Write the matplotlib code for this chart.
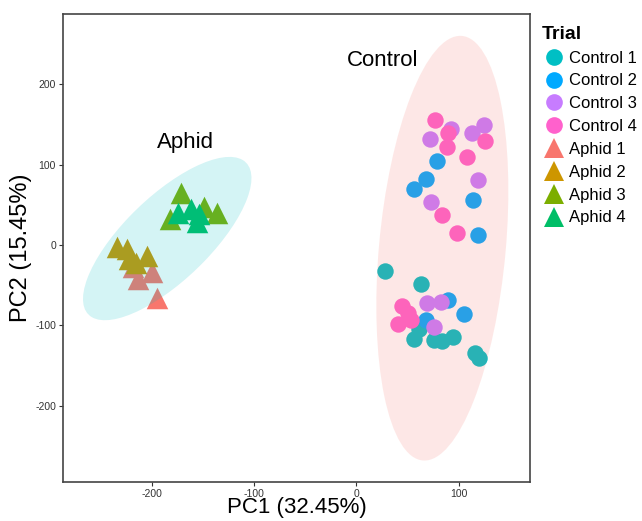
import matplotlib
matplotlib.use("Agg")
import matplotlib.pyplot as plt
from matplotlib.patches import Ellipse
from matplotlib.lines import Line2D

plt.rcParams['font.family'] = ['Liberation Sans', 'DejaVu Sans']
plt.rcParams['axes.unicode_minus'] = False

# PCA scores per trial
control1_x = [28, 63, 61, 56, 76, 84, 94, 116, 120]
control1_y = [-32, -48, -105, -117, -118, -120, -115, -135, -141]
control2_x = [79, 68, 56, 114, 119, 90, 105, 68]
control2_y = [105, 82, 70, 56, 13, -69, -86, -93]
control3_x = [92, 72, 113, 125, 119, 73, 69, 83, 76]
control3_y = [145, 132, 140, 149, 81, 54, -72, -71, -102]
control4_x = [77, 90, 89, 126, 108, 84, 98, 45, 41, 53, 50]
control4_y = [155, 140, 122, 130, 110, 37, 15, -76, -98, -93, -85]
aphid1_x = [-214, -200, -195, -218]
aphid1_y = [-42, -34, -66, -27]
aphid2_x = [-234, -224, -222, -205, -216]
aphid2_y = [-3, -5, -18, -14, -22]
aphid3_x = [-172, -149, -136, -182]
aphid3_y = [65, 47, 40, 32]
aphid4_x = [-174, -162, -154, -156]
aphid4_y = [40, 45, 38, 28]

labels = ['Control 1', 'Control 2', 'Control 3', 'Control 4',
          'Aphid 1', 'Aphid 2', 'Aphid 3', 'Aphid 4']
xs = [control1_x, control2_x, control3_x, control4_x,
      aphid1_x, aphid2_x, aphid3_x, aphid4_x]
ys = [control1_y, control2_y, control3_y, control4_y,
      aphid1_y, aphid2_y, aphid3_y, aphid4_y]
colors = ['#00BFC4', '#00A9FF', '#C77CFF', '#FF61CC',
          '#F8766D', '#CD9600', '#7CAE00', '#00BE67']

# group ellipses: centre, full axes, angle
control_ell = dict(xy=(84, -4), width=530, height=124, angle=86)
aphid_ell = dict(xy=(-185, 8), width=245, height=92, angle=53)

fig = plt.figure(figsize=(6.42, 5.21), dpi=100)
ax = fig.add_axes([0.098, 0.075, 0.728, 0.898])

for x, y, c, lab in zip(xs, ys, colors, labels):
    mk = 'o' if lab.startswith('Control') else '^'
    sz = 140 if mk == 'o' else 240
    ax.scatter(x, y, s=sz, c=c, marker=mk, linewidths=0, zorder=2)

ax.add_patch(Ellipse(**control_ell, facecolor='#F8766D', alpha=0.17,
                     edgecolor='none', zorder=3))
ax.add_patch(Ellipse(**aphid_ell, facecolor='#00BFC4', alpha=0.17,
                     edgecolor='none', zorder=3))

ax.text(-167, 128, 'Aphid', fontsize=16, ha='center', va='center')
ax.text(26, 230, 'Control', fontsize=16, ha='center', va='center')

ax.set_xlim(-287, 170)
ax.set_ylim(-295, 287.5)
ax.set_xticks([-200, -100, 0, 100])
ax.set_yticks([-200, -100, 0, 100, 200])
ax.tick_params(labelsize=7.5, colors='#333333', length=3, width=0.8,
               labelcolor='#333333', pad=2)
for s in ax.spines.values():
    s.set_color('#444444')
    s.set_linewidth(1.2)

ax.set_xlabel('PC1 (32.45%)', fontsize=16, labelpad=-1)
ax.set_ylabel('PC2 (15.45%)', fontsize=17, labelpad=2)

handles = []
for c, lab in zip(colors, labels):
    mk = 'o' if lab.startswith('Control') else '^'
    ms = 12 if mk == 'o' else 15
    handles.append(Line2D([], [], linestyle='none', marker=mk, markersize=ms,
                          markerfacecolor=c, markeredgewidth=0))
leg = ax.legend(handles=handles, labels=labels, title='Trial',
                loc='upper left', bbox_to_anchor=(1.0, 1.0),
                frameon=False, fontsize=12, handletextpad=0.2,
                labelspacing=0.47, borderaxespad=0.3, handlelength=1.45)
leg.get_title().set_fontweight('bold')
leg.get_title().set_fontsize(14)
leg._legend_box.align = 'left'

fig.savefig('out.png', dpi=100)
